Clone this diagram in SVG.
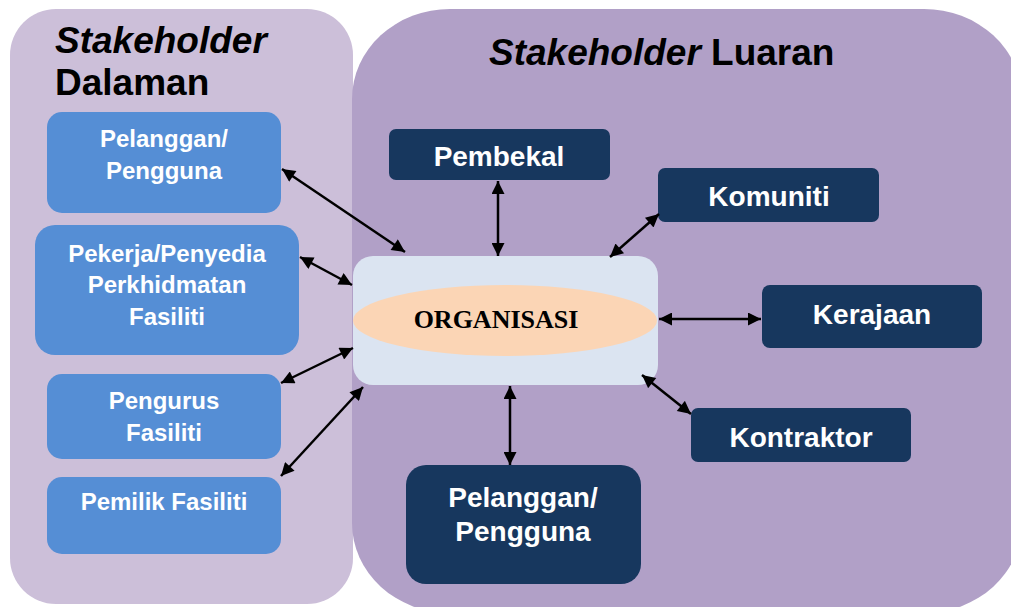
<svg xmlns="http://www.w3.org/2000/svg" width="1011" height="607" viewBox="0 0 1011 607">
<style>
.inner{fill:#558ED5;}
.outer{fill:#17375E;}
.t{font-family:"Liberation Sans",Arial,sans-serif;font-weight:bold;fill:#FFFFFF;text-anchor:middle;}
.s24{font-size:24px;}
.s28{font-size:28px;}
.title{font-family:"Liberation Sans",Arial,sans-serif;font-weight:bold;font-size:37px;fill:#000000;}
.conn line{stroke:#000;stroke-width:2.5;marker-start:url(#ah);marker-end:url(#ah);}
</style>
<defs>
<marker id="ah" viewBox="0 0 10 10" refX="10" refY="5" markerWidth="6" markerHeight="5.2" orient="auto-start-reverse" markerUnits="strokeWidth">
<path d="M0,0 L10,5 L0,10 z" fill="#000"/>
</marker>
</defs>
<rect width="1011" height="607" fill="#FFFFFF"/>
<g id="panel-dalaman">
<rect x="10" y="9" width="343" height="595" rx="46" ry="46" fill="#CCBFD9"/>
<text class="title" x="55" y="53"><tspan font-style="italic">Stakeholder</tspan></text>
<text class="title" x="55" y="95">Dalaman</text>
</g>
<g id="panel-luaran">
<rect x="352" y="9" width="670" height="604" rx="98" ry="90" fill="#B1A0C7"/>
<text class="title" x="489" y="65"><tspan font-style="italic">Stakeholder</tspan> Luaran</text>
</g>
<g id="node-pelanggan-dalam">
<rect class="inner" x="47" y="112" width="234" height="101" rx="15"/>
<text class="t s24" x="164" y="147">Pelanggan/</text>
<text class="t s24" x="164" y="179">Pengguna</text>
</g>
<g id="node-pekerja">
<rect class="inner" x="35" y="225" width="264" height="130" rx="20"/>
<text class="t s24" x="167" y="262">Pekerja/Penyedia</text>
<text class="t s24" x="167" y="293">Perkhidmatan</text>
<text class="t s24" x="167" y="325">Fasiliti</text>
</g>
<g id="node-pengurus">
<rect class="inner" x="47" y="374" width="234" height="85" rx="15"/>
<text class="t s24" x="164" y="409">Pengurus</text>
<text class="t s24" x="164" y="441">Fasiliti</text>
</g>
<g id="node-pemilik">
<rect class="inner" x="47" y="477" width="234" height="77" rx="15"/>
<text class="t s24" x="164" y="510">Pemilik Fasiliti</text>
</g>
<g id="node-organisasi">
<rect x="353" y="256" width="305" height="129" rx="20" fill="#DBE4F1"/>
<ellipse cx="505" cy="320.5" rx="152" ry="35.5" fill="#FBD5B5"/>
<text x="496" y="328" font-family="'Liberation Serif','Times New Roman',serif" font-weight="bold" font-size="26" fill="#000" text-anchor="middle">ORGANISASI</text>
</g>
<g id="node-pembekal">
<rect class="outer" x="389" y="129" width="221" height="51" rx="7"/>
<text class="t s28" x="499" y="166">Pembekal</text>
</g>
<g id="node-komuniti">
<rect class="outer" x="658" y="168" width="221" height="54" rx="7"/>
<text class="t s28" x="769" y="206">Komuniti</text>
</g>
<g id="node-kerajaan">
<rect class="outer" x="762" y="285" width="220" height="63" rx="8"/>
<text class="t s28" x="872" y="324">Kerajaan</text>
</g>
<g id="node-kontraktor">
<rect class="outer" x="691" y="408" width="220" height="54" rx="7"/>
<text class="t s28" x="801" y="447">Kontraktor</text>
</g>
<g id="node-pelanggan-luar">
<rect class="outer" x="406" y="465" width="235" height="119" rx="20"/>
<text class="t s28" x="523" y="507">Pelanggan/</text>
<text class="t s28" x="523" y="541">Pengguna</text>
</g>
<g id="connectors" class="conn">
<line x1="282" y1="169" x2="405" y2="252"/>
<line x1="300" y1="257" x2="352" y2="285"/>
<line x1="281" y1="383" x2="353" y2="348"/>
<line x1="281" y1="476" x2="363" y2="387"/>
<line x1="498" y1="181" x2="498" y2="256"/>
<line x1="659" y1="214" x2="610" y2="257"/>
<line x1="659" y1="319" x2="761" y2="319"/>
<line x1="642" y1="375" x2="691" y2="414"/>
<line x1="510" y1="386" x2="510" y2="465"/>
</g>
</svg>
